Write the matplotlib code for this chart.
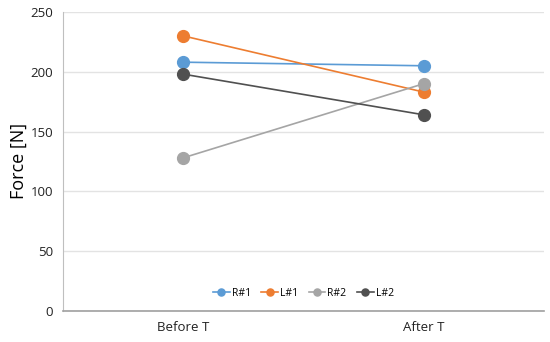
import matplotlib.pyplot as plt

plt.rcParams['font.family'] = ['Open Sans', 'DejaVu Sans']

categories = ['Before T', 'After T']
seriesNames = ['R#1', 'L#1', 'R#2', 'L#2']
r1 = [208, 205]
l1 = [230, 183]
r2 = [128, 190]
l2 = [198, 164]
colours = ['#5B9BD5', '#ED7D31', '#A5A5A5', '#505050']

fig = plt.figure(figsize=(5.5, 3.42), dpi=100)
ax = fig.add_axes([0.1145, 0.091, 0.8745, 0.874])

xs = list(range(len(categories)))
for name, values, colour in zip(seriesNames, [r1, l1, r2, l2], colours):
    ax.plot(xs, values, color=colour, linewidth=1.2, marker='o', markersize=8.5, label=name)

ax.set_xlim(-0.5, 1.5)
ax.set_ylim(0, 250)
ax.set_yticks(range(0, 251, 50))
ax.set_xticks(xs)
ax.set_xticklabels(categories)
ax.grid(axis='y', color='#E3E3E3', linewidth=1)
ax.set_axisbelow(True)
ax.tick_params(length=0, labelsize=9.5, colors='#222222', pad=7)
for side in ['top', 'right']:
    ax.spines[side].set_visible(False)
ax.spines['left'].set_color('#BFBFBF')
ax.spines['bottom'].set_color('#A0A0A0')
ax.spines['bottom'].set_linewidth(1.2)
ax.set_ylabel('Force [N]', fontsize=13, labelpad=2)

ax.legend(loc='lower center', ncol=4, frameon=False, fontsize=7.5,
          handlelength=1.6, handletextpad=0.2, columnspacing=1.0, markerscale=0.6,
          bbox_to_anchor=(0.5, 0.01))

fig.savefig('out.png', dpi=100)
